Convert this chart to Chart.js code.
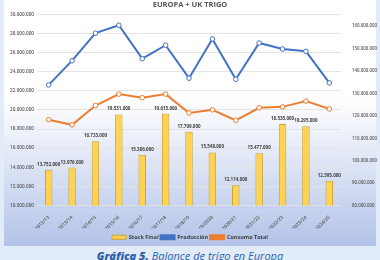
<!DOCTYPE html>
<html>
<head>
<meta charset="utf-8">
<script src="https://cdn.jsdelivr.net/npm/chart.js@4.4.1/dist/chart.umd.min.js"></script>
<style>
  html, body { margin:0; padding:0; }
  body { width:380px; height:260px; background:#e1ecf8; position:relative; overflow:hidden; }
  #panel { position:absolute; left:4px; top:0; width:372px; height:246px;
    background: linear-gradient(to bottom, #ffffff 0%, #ffffff 40%, #b3c3e8 100%); }
  #wrap { position:absolute; left:0; top:0; width:380px; height:246px; }
  #cap { position:absolute; left:0; width:380px; top:248px; text-align:center;
    font-family:"Open Sans", sans-serif; font-style:italic; font-size:11px; color:#2f5fae; white-space:nowrap; }
  #cap b { font-weight:800; }
</style>
</head>
<body>
<div id="panel"></div>
<div id="wrap"><canvas id="c" width="380" height="246"></canvas></div>
<div id="cap"><b>Gráfica 5.</b> Balance de trigo en Europa</div>
<script>
const categories = ["2012/13","2013/14","2014/15","2015/16","2016/17","2017/18","2018/19","2019/2020","2020/21","2021/22","2022/23","2023/24","2024/25"];
const stockFinal = [13752000,13976000,16733000,19531000,15306000,19615000,17709000,15548000,12114000,15477000,18535000,18295000,12595000];
const produccion = [133800000,144600000,156900000,160400000,145500000,151500000,136800000,154300000,136300000,152500000,149800000,148800000,134700000];
const consumoTotal = [118300000,116000000,124600000,129700000,128100000,129700000,121300000,122700000,118000000,123600000,124000000,126600000,123100000];
const rightTicks = [80000000,90000000,100000000,110000000,120000000,130000000,140000000,150000000,160000000];

function fmt(v){ return Math.round(v).toString().replace(/\B(?=(\d{3})+(?!\d))/g, "."); }

const barLabels = {
  id:'barLabels',
  afterDatasetsDraw(chart){
    const ctx = chart.ctx;
    const meta = chart.getDatasetMeta(0);
    ctx.save();
    ctx.font = "bold 4.5px 'Open Sans', sans-serif";
    ctx.fillStyle = "#404040";
    ctx.textAlign = "center";
    ctx.textBaseline = "bottom";
    meta.data.forEach((el,i)=>{
      ctx.fillText(fmt(stockFinal[i]), el.x, el.y - 3);
    });
    ctx.restore();
  }
};

const legendShift = {
  id:'legendShift',
  afterLayout(chart){
    const lg = chart.legend;
    if (!lg) return;
    const d = 4;
    lg.top += d; lg.bottom += d;
    (lg.legendHitBoxes || []).forEach(h => { h.top += d; });
  }
};

const tickFont = { family:"'Open Sans', sans-serif", size:4.7, weight:'600' };

new Chart(document.getElementById('c'), {
  data: {
    labels: categories,
    datasets: [
      { type:'bar', label:'Stock Final', data:stockFinal, yAxisID:'y',
        backgroundColor:'#ffd24f', borderColor:'#c9a431', borderWidth:1,
        barPercentage:0.32, categoryPercentage:1, order:3 },
      { type:'line', label:'Producción', data:produccion, yAxisID:'y1',
        borderColor:'#4472c4', backgroundColor:'#4472c4', borderWidth:2,
        pointRadius:2.3, pointBackgroundColor:'#ffffff', pointBorderColor:'#4472c4', pointBorderWidth:1,
        tension:0, order:1 },
      { type:'line', label:'Consumo Total', data:consumoTotal, yAxisID:'y1',
        borderColor:'#ed7d31', backgroundColor:'#ed7d31', borderWidth:2,
        pointRadius:2.3, pointBackgroundColor:'#ffffff', pointBorderColor:'#ed7d31', pointBorderWidth:1,
        tension:0, order:2 }
    ]
  },
  options: {
    responsive:false, animation:false,
    layout:{ padding:{ top:0, bottom:0, left:0, right:0 } },
    plugins:{
      title:{ display:true, text:'EUROPA + UK TRIGO', color:'#595959',
        font:{ family:"'Open Sans', sans-serif", size:7.5, weight:'bold' }, padding:{ top:0, bottom:5.3 } },
      legend:{ position:'bottom',
        labels:{ color:'#404040', font:{ family:"'Open Sans', sans-serif", size:5.5, weight:'bold' },
          boxWidth:14, boxHeight:4, padding:2,
          sort:(a,b)=>a.datasetIndex-b.datasetIndex } },
      tooltip:{ enabled:false }
    },
    scales:{
      x:{ grid:{ display:false }, border:{ display:false },
        ticks:{ color:'#595959', font:{ family:"'Open Sans', sans-serif", size:4.8, weight:'600' }, minRotation:45, maxRotation:45, autoSkip:false, padding:1 },
        afterFit(s){ s.height = 23; } },
      y:{ position:'left', min:10000000, max:30000000,
        grid:{ color:'#e4e4e4', lineWidth:1, drawTicks:false }, border:{ display:false },
        ticks:{ stepSize:2000000, color:'#595959', font:tickFont, padding:3, callback:v=>fmt(v) },
        afterFit(s){ s.width = 37; } },
      y1:{ position:'right', min:80000000, max:165300000,
        grid:{ display:false }, border:{ display:false },
        afterBuildTicks(s){ s.ticks = rightTicks.map(v=>({value:v})); },
        ticks:{ color:'#595959', font:{ family:"'Open Sans', sans-serif", size:4.4, weight:'600' }, padding:3, autoSkip:false, callback:v=>fmt(v) },
        afterFit(s){ s.width = 39; } }
    }
  },
  plugins:[barLabels, legendShift]
});
</script>
</body>
</html>
